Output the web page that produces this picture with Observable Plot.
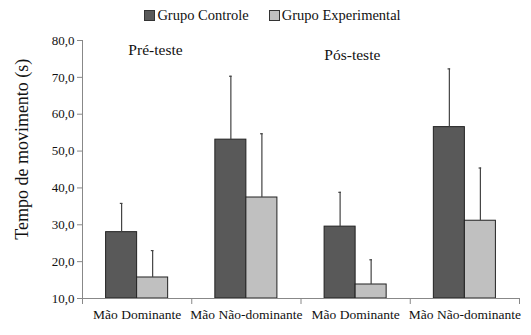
<!DOCTYPE html>
<html>
<head>
<meta charset="utf-8">
<script src="https://cdn.jsdelivr.net/npm/d3@7"></script>
<script src="https://cdn.jsdelivr.net/npm/@observablehq/plot@0.6"></script>
<style>
  body { margin: 0; background: #fff; font-family: "Liberation Serif", serif; }
  #legend { height: 30px; display: flex; justify-content: center; align-items: center; font-size: 14.5px; color: #111; padding-left: 14px; box-sizing: border-box; width: 531px; }
  .item { display: flex; align-items: center; margin: 0 10px; }
  .sw { width: 9px; height: 9px; border: 1px solid #333; margin-right: 2px; }
</style>
</head>
<body>
<div id="legend"></div>
<div id="chart"></div>
<script>
const categories = ["Mão Dominante", "Mão Não-dominante", "Mão Dominante", "Mão Não-dominante"];
const phases = ["Pré-teste", "Pós-teste"];
const groups = ["Grupo Controle", "Grupo Experimental"];
const controleMean = [28.0, 53.1, 29.5, 56.5];
const controleSD = [7.8, 17.2, 9.3, 15.8];
const experimentalMean = [15.7, 37.4, 13.8, 31.1];
const experimentalSD = [7.3, 17.3, 6.7, 14.3];
const yTicks = [10, 20, 30, 40, 50, 60, 70, 80];
const colors = ["#595959", "#c0c0c0"];
const FF = "'Liberation Serif', serif";

const barW = 0.284;
const rows = [];
categories.forEach((c, i) => {
  rows.push({i, g: groups[0], x1: i + 0.5 - barW, x2: i + 0.5, xc: i + 0.5 - barW / 2, v: controleMean[i], sd: controleSD[i]});
  rows.push({i, g: groups[1], x1: i + 0.5, x2: i + 0.5 + barW, xc: i + 0.5 + barW / 2, v: experimentalMean[i], sd: experimentalSD[i]});
});
const cap = 0.012;
const fmt = d => d3.format(".1f")(d).replace(".", ",");

const lg = document.getElementById("legend");
groups.forEach((g, k) => {
  const it = document.createElement("div");
  it.className = "item";
  it.innerHTML = `<span class="sw" style="background:${colors[k]}"></span><span>${g}</span>`;
  lg.appendChild(it);
});

const chart = Plot.plot({
  width: 531,
  height: 305,
  marginLeft: 82,
  marginRight: 12,
  marginTop: 10,
  marginBottom: 37,
  style: {fontSize: "13px", color: "#111", background: "#fff", fontFamily: FF},
  x: {domain: [0, 4], axis: null},
  y: {domain: [10, 80], axis: null},
  color: {domain: groups, range: colors},
  marks: [
    Plot.rectY(rows, {x1: "x1", x2: "x2", y1: 10, y2: "v", fill: "g", stroke: "#222", strokeWidth: 1}),
    Plot.ruleX(rows, {x: "xc", y1: "v", y2: d => d.v + d.sd, stroke: "#444", strokeWidth: 1.2}),
    Plot.ruleY(rows, {y: d => d.v + d.sd, x1: d => d.xc - cap, x2: d => d.xc + cap, stroke: "#444", strokeWidth: 1.2}),
    Plot.axisY(yTicks, {tickFormat: fmt, tickSize: 5, stroke: "#888", fontSize: 13, fontFamily: FF, tickPadding: 3, label: null}),
    Plot.ruleX([0], {stroke: "#888"}),
    Plot.ruleY([10], {stroke: "#888"}),
    Plot.axisX([0, 1, 2, 3, 4], {tickFormat: () => "", tickSize: 6, stroke: "#888", label: null}),
    Plot.axisX(categories.map((c, i) => i + 0.5), {tickFormat: (d) => categories[Math.floor(d)], tickSize: 0, tickPadding: 11, fontSize: 13.5, fontFamily: FF, label: null}),
    Plot.text([phases[0]], {x: 0.668, y: 77.4, fontSize: 15.5, fontFamily: FF}),
    Plot.text([phases[1]], {x: 2.47, y: 76.1, fontSize: 15.5, fontFamily: FF}),
    Plot.text(["Tempo de movimento (s)"], {frameAnchor: "left", y: 50.5, rotate: -90, dx: -60, textAnchor: "middle", fontSize: 18, fontFamily: FF})
  ]
});
document.getElementById("chart").appendChild(chart);
</script>
</body>
</html>
